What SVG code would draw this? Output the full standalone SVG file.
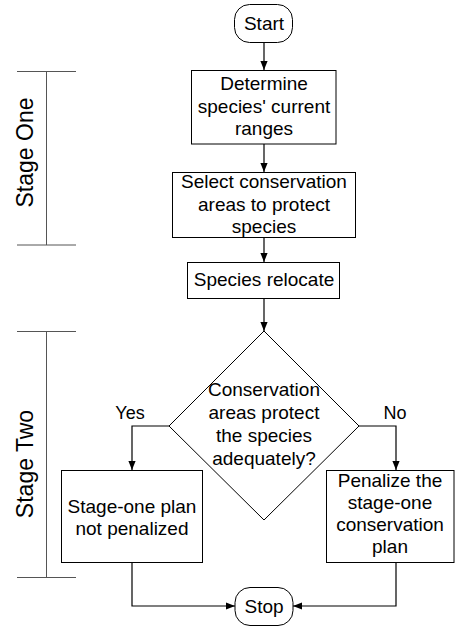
<svg xmlns="http://www.w3.org/2000/svg" width="457" height="626" viewBox="0 0 457 626">
<style>
.box{fill:#fff;stroke:#000;stroke-width:1}
.t{font-family:"Liberation Sans",Arial,sans-serif;font-size:19px;fill:#000;text-anchor:middle}
.lbl{font-family:"Liberation Sans",Arial,sans-serif;font-size:18px;fill:#000;text-anchor:middle}
.stage{font-family:"Liberation Sans",Arial,sans-serif;font-size:23px;fill:#000;text-anchor:middle}
.br{stroke:#555;stroke-width:1;fill:none}
.c{stroke:#000;stroke-width:1.2;fill:none;marker-end:url(#ah)}
</style>
<defs>
<marker id="ah" viewBox="0 0 10 8" markerWidth="9" markerHeight="8" refX="10" refY="4" orient="auto" markerUnits="userSpaceOnUse">
<path d="M0,0 L10,4 L0,8 z" fill="#000"/>
</marker>
</defs>
<rect width="457" height="626" fill="#fff"/>
<g id="stage-one">
<path class="br" d="M17,71.5 H76 M46.5,71.5 V245 M17,245 H76"/>
<text class="stage" transform="translate(33,152.5) rotate(-90)">Stage One</text>
</g>
<g id="stage-two">
<path class="br" d="M17,331.5 H76 M46.5,331.5 V577.5 M17,577.5 H76"/>
<text class="stage" transform="translate(33,464) rotate(-90)">Stage Two</text>
</g>
<g id="connectors">
<path class="c" d="M264,43 V70"/>
<path class="c" d="M264,144 V172"/>
<path class="c" d="M264,238 V262"/>
<path class="c" d="M264,298 V331"/>
<path class="c" d="M169,426 H132 V470"/>
<path class="c" d="M359,426 H396 V470"/>
<path class="c" d="M132,562 V606 H235"/>
<path class="c" d="M396,562 V606 H293"/>
<text class="lbl" x="130" y="419">Yes</text>
<text class="lbl" x="395" y="419">No</text>
</g>
<g id="start">
<rect class="box" x="234.5" y="4.5" width="58" height="38" rx="15"/>
<text class="t" x="264" y="30">Start</text>
</g>
<g id="determine">
<rect class="box" x="191.5" y="70.5" width="144.5" height="73.5"/>
<text class="t" x="264" y="90">Determine</text>
<text class="t" x="264" y="113">species' current</text>
<text class="t" x="264" y="135">ranges</text>
</g>
<g id="select">
<rect class="box" x="172.5" y="172.5" width="183" height="65"/>
<text class="t" x="264" y="188">Select conservation</text>
<text class="t" x="264" y="211">areas to protect</text>
<text class="t" x="264" y="233">species</text>
</g>
<g id="relocate">
<rect class="box" x="187.5" y="262.5" width="152" height="36"/>
<text class="t" x="264" y="286">Species relocate</text>
</g>
<g id="decision">
<polygon class="box" points="264,331 359,426 264,520 169,426"/>
<text class="t" x="264" y="396">Conservation</text>
<text class="t" x="264" y="419">areas protect</text>
<text class="t" x="264" y="442">the species</text>
<text class="t" x="264" y="465">adequately?</text>
</g>
<g id="not-penalized">
<rect class="box" x="61.5" y="470.5" width="141" height="92"/>
<text class="t" x="132" y="513">Stage-one plan</text>
<text class="t" x="132" y="535">not penalized</text>
</g>
<g id="penalize">
<rect class="box" x="326.5" y="470.5" width="127.5" height="92"/>
<text class="t" x="390" y="487">Penalize the</text>
<text class="t" x="390" y="509">stage-one</text>
<text class="t" x="390" y="531">conservation</text>
<text class="t" x="390" y="553">plan</text>
</g>
<g id="stop">
<rect class="box" x="235" y="587.5" width="58" height="38" rx="15"/>
<text class="t" x="264" y="613">Stop</text>
</g>
</svg>
